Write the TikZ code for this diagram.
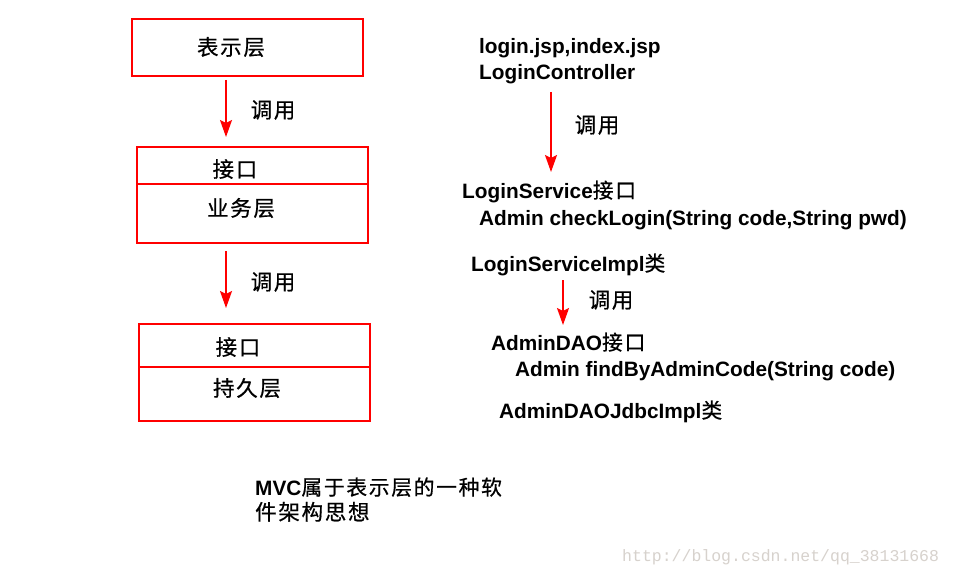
\documentclass[tikz,border=0pt]{standalone}
\usepackage{fontspec}
\setmainfont{Liberation Sans}
\newfontfamily\cjk[LetterSpace=8,FakeBold=0.6]{Noto Sans CJK SC}
\newfontfamily\wmfont{Liberation Mono}
\usetikzlibrary{arrows.meta,calc}
\definecolor{myred}{RGB}{255,0,0}
\definecolor{wmgray}{RGB}{215,210,205}
\tikzset{
  layerbox/.style={draw=myred, line width=2pt, inner sep=0pt},
  divider/.style={draw=myred, line width=2pt},
  arr/.style={draw=myred, line width=2pt, -{Stealth[length=17pt,width=12pt,inset=3pt]}},
  cn/.style={font=\cjk\fontsize{21.5}{24}\selectfont, inner sep=0pt},
  lt/.style={font=\bfseries\fontsize{20.8}{24}\selectfont, inner sep=0pt, anchor=base west},
  wm/.style={font=\wmfont\fontsize{16.5}{20}\selectfont, text=wmgray, inner sep=0pt, anchor=base west},
}
\begin{document}
\begin{tikzpicture}[x=1pt,y=-1pt]
\useasboundingbox[fill=white] (0,0) rectangle (953,575);
% left boxes
\node[layerbox, minimum width=231pt, minimum height=57pt] (b1) at (247.5,47.5) {};
\node[layerbox, minimum width=231pt, minimum height=96pt] (b2) at (252.5,195) {};
\node[layerbox, minimum width=231pt, minimum height=97pt] (b3) at (254.5,372.5) {};
\draw[divider] (b2.west |- 0,184) -- (b2.east |- 0,184);
\draw[divider] (b3.west |- 0,367) -- (b3.east |- 0,367);
\node[cn] (t1) at (231,47) {表示层};
\node[cn] (t2a) at (235,169) {接口};
\node[cn] (t2b) at (241,208) {业务层};
\node[cn] (t3a) at (238,347) {接口};
\node[cn] (t3b) at (247,388) {持久层};
\node[cn] (c1) at (273,110) {调用};
\node[cn] (c2) at (273,282) {调用};
\coordinate (xa) at (226,0);
\draw[arr] ($(b1.south -| xa)+(0,3)$) -- ($(b2.north -| xa)+(0,-9)$);
\draw[arr] ($(b2.south -| xa)+(0,7)$) -- ($(b3.north -| xa)+(0,-15)$);
% right side
\node[lt] (lj) at (479,54) {login.jsp,index.jsp};
\node[lt] (lc) at (479,80) {LoginController};
\node[lt] (ls) at (462,198) {LoginService{\cjk\mdseries 接口}};
\node[lt] (cl) at (479,225) {Admin checkLogin(String code,String pwd)};
\node[lt] (lsi) at (471,271) {LoginServiceImpl{\cjk\mdseries 类}};
\node[lt] (ad) at (491,350) {AdminDAO{\cjk\mdseries 接口}};
\node[lt] (fb) at (515,376) {Admin findByAdminCode(String code)};
\node[lt] (adj) at (499,418) {AdminDAOJdbcImpl{\cjk\mdseries 类}};
\node[cn] (c3) at (597,125) {调用};
\node[cn] (c4) at (611,300) {调用};
\coordinate (xb) at (551,0);
\coordinate (xc) at (563,0);
\draw[arr] ($(lc.base -| xb)+(0,12)$) -- ($(ls.base -| xb)+(0,-26)$);
\draw[arr] ($(lsi.base -| xc)+(0,9)$) -- ($(ad.base -| xc)+(0,-25)$);
% note
\node[lt] (m1) at (255,495) {MVC{\cjk\mdseries 属于表示层的一种软}};
\node[cn, anchor=base west] (m2) at (255,520) {件架构思想};
% watermark
\node[wm] (w) at (622,561) {http://blog.csdn.net/qq\_38131668};
\end{tikzpicture}
\end{document}
